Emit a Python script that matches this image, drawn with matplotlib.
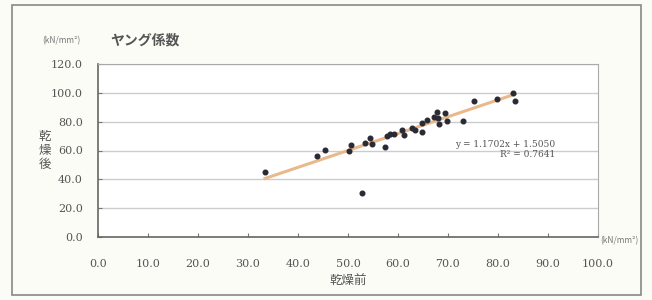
import matplotlib
matplotlib.use("Agg")
from matplotlib import pyplot as plt
from matplotlib.patches import Rectangle
import numpy as np

plt.rcParams['font.family'] = ['Noto Sans CJK JP', 'DejaVu Sans']

# values (before drying -> after drying)
before = [33.4, 43.7, 45.4, 50.1, 50.6, 52.7, 53.4, 54.4, 54.7, 57.4,
          57.7, 58.4, 59.1, 60.7, 61.1, 62.7, 63.4, 64.7, 64.7, 65.7,
          67.1, 67.7, 67.9, 68.1, 69.4, 69.7, 72.9, 75.1, 79.7, 83.0, 83.4]
after = [44.9, 56.2, 60.3, 59.9, 63.8, 30.7, 65.0, 68.4, 64.5, 62.2,
         70.1, 71.4, 71.4, 74.2, 70.7, 75.4, 74.2, 73.0, 79.3, 81.2,
         83.5, 86.9, 82.3, 78.4, 85.8, 80.7, 80.7, 94.5, 95.5, 99.9, 94.3]
slope, intercept, r2 = 1.1702, 1.5050, 0.7641
x_ticks = np.arange(0, 101, 10)
y_ticks = np.arange(0, 121, 20)

fig = plt.figure(figsize=(6.52, 3.0), dpi=100, facecolor='#fcfcf7')
# outer chart frame
fig.patches.append(Rectangle((12/652, 5/300), 629/652, 290/300, transform=fig.transFigure,
                             fill=False, edgecolor='#888888', linewidth=1.2))

ax = fig.add_axes([98/652, 1-237/300, 500/652, 173/300])
ax.set_facecolor('white')

xs = np.array([min(before), max(before)])
ax.plot(xs, slope*xs + intercept, color='#e9b98c', linewidth=2.2, zorder=2)
ax.scatter(before, after, s=11, color='#2a2a35', zorder=3)

ax.set_xlim(0, 100)
ax.set_ylim(0, 120)
ax.set_xticks(x_ticks)
ax.set_yticks(y_ticks)
ax.set_xticklabels(['%.1f' % v for v in x_ticks], fontsize=8, family='DejaVu Serif', color='#555555')
ax.set_yticklabels(['%.1f' % v for v in y_ticks], fontsize=8, family='DejaVu Serif', color='#555555')
ax.tick_params(direction='in', length=3, color='#777777')
ax.tick_params(axis='x', pad=16)
ax.tick_params(axis='y', pad=11)
ax.grid(axis='y', color='#cccccc', linewidth=1.0)
ax.set_axisbelow(True)
for side in ['left', 'bottom']:
    ax.spines[side].set_color('#666666')
    ax.spines[side].set_linewidth(1.2)
for side in ['top', 'right']:
    ax.spines[side].set_color('#aaaaaa')

ax.set_xlabel('乾燥前', fontsize=9, color='#555555', labelpad=4)
ax.set_ylabel('乾\n燥\n後', fontsize=9, color='#555555', rotation=0, va='center', ha='center',
              linespacing=1.1)
ax.yaxis.set_label_coords(-0.106, 0.50)

fig.text(110/652, 1-41/300, 'ヤング係数', fontsize=10, color='#555555', va='center', weight='bold')
fig.text(42/652, 1-41/300, '(kN/mm²)', fontsize=6, color='#777777', va='center')
fig.text(600/652, 1-241/300, '(kN/mm²)', fontsize=6, color='#777777', va='center')

ax.text(91.5, 64, 'y = %.4fx + %.4f' % (slope, intercept), fontsize=6.5, color='#555555',
        ha='right', va='center', family='DejaVu Serif')
ax.text(91.5, 57.5, 'R² = %.4f' % r2, fontsize=6.5, color='#555555', ha='right', va='center',
        family='DejaVu Serif')

fig.savefig('out.png', dpi=100, facecolor=fig.get_facecolor())
